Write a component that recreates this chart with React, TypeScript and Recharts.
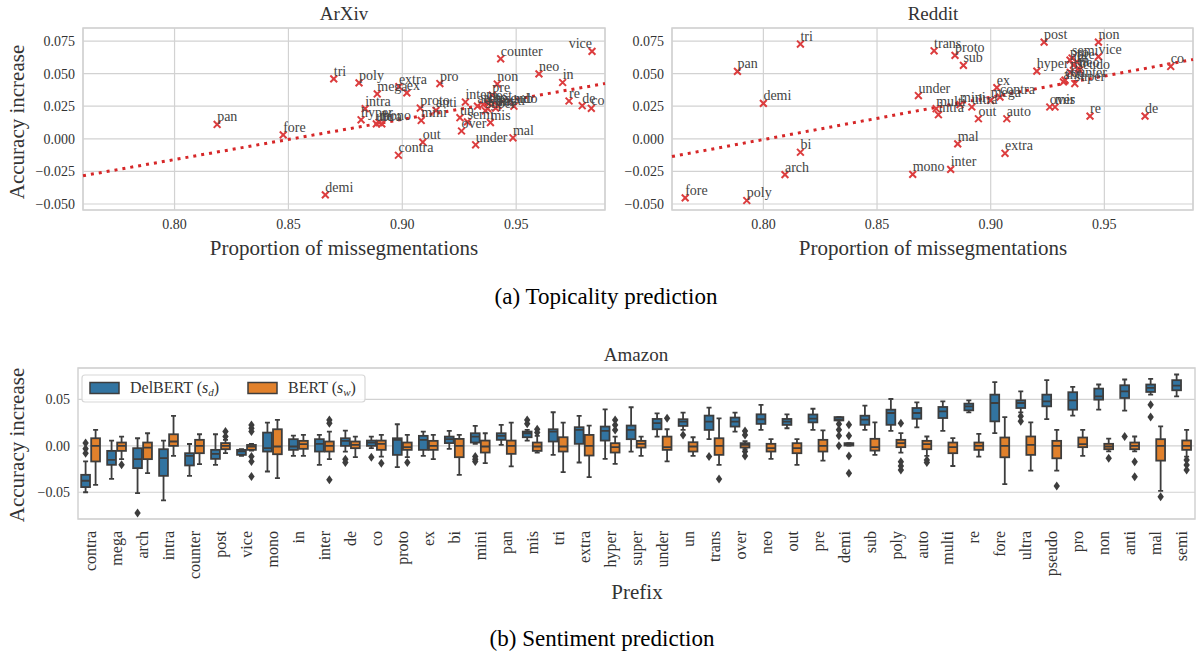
import React from 'react';
import {
  ScatterChart,
  Scatter,
  ComposedChart,
  Bar,
  XAxis,
  YAxis,
  CartesianGrid,
  ReferenceLine,
  ReferenceArea,
} from 'recharts';

const SERIF = '"Liberation Serif", "Times New Roman", serif';
const GRID = '#d2d2d2';
const TEXT = '#333333';
const RED = '#d62728';
const MARK = '#dc3d3e';
const BLUE = '#3274a1';
const ORANGE = '#e1812c';
const EDGE = '#3d3d3d';

// ---------- topicality scatter data ----------
const arxivPoints = [
  { p: 'pan', x: 0.8187, y: 0.011 },
  { p: 'fore', x: 0.8477, y: 0.003 },
  { p: 'tri', x: 0.8699, y: 0.046 },
  { p: 'demi', x: 0.8662, y: -0.043 },
  { p: 'poly', x: 0.881, y: 0.0429 },
  { p: 'mega', x: 0.889, y: 0.0344 },
  { p: 'extra', x: 0.8985, y: 0.04 },
  { p: 'ex', x: 0.902, y: 0.0352 },
  { p: 'pro', x: 0.9165, y: 0.0424 },
  { p: 'counter', x: 0.9432, y: 0.0614 },
  { p: 'vice', x: 0.9833, y: 0.0671 },
  { p: 'neo', x: 0.96, y: 0.0498 },
  { p: 'in', x: 0.9704, y: 0.0432 },
  { p: 'non', x: 0.9417, y: 0.042 },
  { p: 're', x: 0.9732, y: 0.029 },
  { p: 'de', x: 0.979, y: 0.0254 },
  { p: 'co', x: 0.983, y: 0.0234 },
  { p: 'mal', x: 0.9486, y: 0.0008 },
  { p: 'under', x: 0.9322, y: -0.0046 },
  { p: 'out', x: 0.909, y: -0.0026 },
  { p: 'contra', x: 0.8983, y: -0.0126 },
  { p: 'intra', x: 0.8837, y: 0.0231 },
  { p: 'hyper', x: 0.8819, y: 0.0146 },
  { p: 'ultra', x: 0.8886, y: 0.0115 },
  { p: 'mono', x: 0.8898, y: 0.0125 },
  { p: 'bi', x: 0.891, y: 0.0115 },
  { p: 'proto', x: 0.9079, y: 0.0236 },
  { p: 'anti', x: 0.9148, y: 0.0218 },
  { p: 'mini', x: 0.9083, y: 0.0141 },
  { p: 'inter', x: 0.9277, y: 0.0282 },
  { p: 'un', x: 0.9253, y: 0.0162 },
  { p: 'over', x: 0.926, y: 0.006 },
  { p: 'semi', x: 0.9286, y: 0.013 },
  { p: 'arch', x: 0.933, y: 0.025 },
  { p: 'auto', x: 0.9355, y: 0.0262 },
  { p: 'super', x: 0.9365, y: 0.0215 },
  { p: 'mis', x: 0.9387, y: 0.0125 },
  { p: 'trans', x: 0.9375, y: 0.0232 },
  { p: 'pre', x: 0.9395, y: 0.0335 },
  { p: 'post', x: 0.938, y: 0.0275 },
  { p: 'multi', x: 0.941, y: 0.0235 },
  { p: 'pseudo', x: 0.942, y: 0.0255 },
  { p: 'sub', x: 0.949, y: 0.025 },
];

const redditPoints = [
  { p: 'tri', x: 0.8163, y: 0.0727 },
  { p: 'pan', x: 0.7886, y: 0.0517 },
  { p: 'demi', x: 0.8, y: 0.0272 },
  { p: 'bi', x: 0.8163, y: -0.0103 },
  { p: 'arch', x: 0.8095, y: -0.0275 },
  { p: 'fore', x: 0.7656, y: -0.0453 },
  { p: 'poly', x: 0.7927, y: -0.0473 },
  { p: 'under', x: 0.8682, y: 0.0332 },
  { p: 'mono', x: 0.8657, y: -0.0273 },
  { p: 'trans', x: 0.8751, y: 0.0675 },
  { p: 'proto', x: 0.8843, y: 0.064 },
  { p: 'sub', x: 0.888, y: 0.0563 },
  { p: 'post', x: 0.9235, y: 0.0742 },
  { p: 'non', x: 0.9474, y: 0.0742 },
  { p: 'co', x: 0.9792, y: 0.0555 },
  { p: 'hyper', x: 0.9203, y: 0.0519 },
  { p: 'mal', x: 0.8855, y: -0.0039 },
  { p: 'inter', x: 0.8824, y: -0.0234 },
  { p: 'extra', x: 0.9063, y: -0.0111 },
  { p: 'out', x: 0.8946, y: 0.0154 },
  { p: 'auto', x: 0.9071, y: 0.0154 },
  { p: 're', x: 0.9437, y: 0.0174 },
  { p: 'de', x: 0.9679, y: 0.0174 },
  { p: 'over', x: 0.926, y: 0.0244 },
  { p: 'mis', x: 0.9283, y: 0.0244 },
  { p: 'ex', x: 0.9027, y: 0.0393 },
  { p: 'contra', x: 0.9041, y: 0.032 },
  { p: 'mega', x: 0.9, y: 0.0295 },
  { p: 'multi', x: 0.876, y: 0.0231 },
  { p: 'intra', x: 0.877, y: 0.0185 },
  { p: 'mini', x: 0.8865, y: 0.0262 },
  { p: 'ultra', x: 0.8917, y: 0.0244 },
  { p: 'semi', x: 0.9358, y: 0.062 },
  { p: 'vice', x: 0.9474, y: 0.063 },
  { p: 'pro', x: 0.9349, y: 0.0604 },
  { p: 'pre', x: 0.9379, y: 0.059 },
  { p: 'un', x: 0.9364, y: 0.0565 },
  { p: 'in', x: 0.9386, y: 0.054 },
  { p: 'pseudo', x: 0.935, y: 0.051 },
  { p: 'neo', x: 0.939, y: 0.0527 },
  { p: 'anti', x: 0.932, y: 0.0436 },
  { p: 'counter', x: 0.9327, y: 0.045 },
  { p: 'super', x: 0.937, y: 0.0424 },
];

// regression fits: y = a + b * x
const arxivFit = { a: -0.2627, b: 0.3085 };
const redditFit = { a: -0.2603, b: 0.3247 };

const propDomain = [0.7598, 0.989];
const propTicks = [0.8, 0.85, 0.9, 0.95];
const accDomain = [-0.0546, 0.085];
const accTicks = [-0.05, -0.025, 0, 0.025, 0.05, 0.075];

// ---------- sentiment box plot data ----------
const prefixes = [
  'contra', 'mega', 'arch', 'intra', 'counter', 'post', 'vice', 'mono', 'in', 'inter',
  'de', 'co', 'proto', 'ex', 'bi', 'mini', 'pan', 'mis', 'tri', 'extra',
  'hyper', 'super', 'under', 'un', 'trans', 'over', 'neo', 'out', 'pre', 'demi',
  'sub', 'poly', 'auto', 'multi', 're', 'fore', 'ultra', 'pseudo', 'pro', 'non',
  'anti', 'mal', 'semi',
];

// [whisker low, q1, median, q3, whisker high]
const delbertBoxes = [
  [-0.05, -0.0444, -0.0376, -0.0312, -0.0168],
  [-0.0355, -0.0204, -0.015, -0.0054, 0.0057],
  [-0.0509, -0.024, -0.0143, -0.0025, 0.0082],
  [-0.0588, -0.0323, -0.0133, -0.0036, 0.0057],
  [-0.0323, -0.0211, -0.0108, -0.0079, 0.002],
  [-0.0204, -0.014, -0.0086, -0.0043, 0.0125],
  [-0.0108, -0.0097, -0.006, -0.0043, -0.0036],
  [-0.0276, -0.0061, -0.0025, 0.0143, 0.0251],
  [-0.0108, -0.0043, -0.0007, 0.0072, 0.0111],
  [-0.0204, -0.0061, 0.0022, 0.0072, 0.0118],
  [-0.0061, 0, 0.0054, 0.0082, 0.0165],
  [-0.0025, 0, 0.0036, 0.0057, 0.01],
  [-0.0229, -0.0097, 0.0065, 0.0082, 0.0233],
  [-0.0108, -0.0043, 0.0065, 0.0108, 0.0154],
  [-0.0032, 0.003, 0.0072, 0.01, 0.0161],
  [0.0022, 0.0036, 0.01, 0.0136, 0.0215],
  [0.0011, 0.0065, 0.0108, 0.0136, 0.0226],
  [0.0057, 0.0093, 0.0136, 0.0154, 0.0172],
  [-0.0097, 0.0047, 0.0154, 0.0179, 0.0362],
  [-0.0179, 0.0022, 0.0172, 0.0201, 0.0323],
  [-0.014, 0.0057, 0.0161, 0.0208, 0.0394],
  [-0.0061, 0.0072, 0.0172, 0.0219, 0.0416],
  [0.01, 0.0179, 0.0244, 0.029, 0.0351],
  [0.0172, 0.0215, 0.0262, 0.0287, 0.0358],
  [0.0072, 0.0172, 0.0262, 0.0326, 0.0412],
  [0.0154, 0.0208, 0.0262, 0.0305, 0.0358],
  [0.0172, 0.0237, 0.0287, 0.034, 0.0441],
  [0.019, 0.0226, 0.0262, 0.029, 0.034],
  [0.0173, 0.0253, 0.0294, 0.0338, 0.04],
  [0.0274, 0.0274, 0.0285, 0.031, 0.031],
  [0.0173, 0.0227, 0.0282, 0.0325, 0.0433],
  [0.0162, 0.0227, 0.0354, 0.039, 0.0505],
  [0.0199, 0.0292, 0.0354, 0.0408, 0.0469],
  [0.0162, 0.03, 0.0372, 0.0419, 0.048],
  [0.0361, 0.0383, 0.0426, 0.0455, 0.0491],
  [0.0137, 0.0264, 0.0462, 0.0552, 0.0686],
  [0.0361, 0.0408, 0.0462, 0.0491, 0.0588],
  [0.0289, 0.0426, 0.048, 0.0552, 0.0708],
  [0.0325, 0.039, 0.0491, 0.0578, 0.0635],
  [0.039, 0.0498, 0.0534, 0.0617, 0.0661],
  [0.0379, 0.0516, 0.0588, 0.0653, 0.0715],
  [0.0552, 0.0581, 0.0625, 0.0661, 0.0722],
  [0.0534, 0.0599, 0.065, 0.0708, 0.0769],
];

const bertBoxes = [
  [-0.042, -0.0168, 0, 0.0082, 0.0172],
  [-0.0143, -0.0054, 0, 0.0036, 0.01],
  [-0.0294, -0.0143, -0.002, 0.0036, 0.0136],
  [-0.0108, 0, 0.0047, 0.0125, 0.0323],
  [-0.0197, -0.0079, 0, 0.0065, 0.0125],
  [-0.0079, -0.0036, 0, 0.003, 0.0065],
  [-0.005, -0.0043, -0.0007, 0.001, 0.002],
  [-0.0348, -0.009, -0.0007, 0.0179, 0.028],
  [-0.0108, -0.0032, 0.0018, 0.0054, 0.0118],
  [-0.0143, -0.0061, 0, 0.0047, 0.0154],
  [-0.0122, -0.0025, 0.0011, 0.0047, 0.01],
  [-0.0115, -0.0043, 0.0022, 0.0057, 0.0118],
  [-0.0122, -0.0043, -0.0014, 0.0036, 0.0118],
  [-0.0143, -0.0043, 0, 0.0054, 0.0118],
  [-0.0312, -0.0122, 0, 0.0075, 0.0118],
  [-0.0186, -0.0072, -0.0007, 0.0057, 0.0136],
  [-0.0222, -0.0086, 0, 0.0057, 0.0251],
  [-0.0072, -0.0054, -0.0007, 0.0036, 0.0108],
  [-0.0283, -0.0061, -0.0007, 0.0093, 0.0251],
  [-0.0337, -0.0104, 0, 0.0118, 0.0219],
  [-0.0194, -0.0072, -0.0014, 0.0029, 0.01],
  [-0.0108, -0.0018, 0.0022, 0.0054, 0.01],
  [-0.0168, -0.0043, -0.0014, 0.01, 0.0179],
  [-0.0108, -0.0061, -0.0007, 0.0039, 0.0093],
  [-0.0204, -0.0097, 0, 0.0082, 0.0297],
  [-0.0036, -0.0018, 0.0011, 0.0029, 0.005],
  [-0.014, -0.0061, -0.0025, 0.0022, 0.0072],
  [-0.0204, -0.0079, -0.0025, 0.0029, 0.0072],
  [-0.0159, -0.0061, 0, 0.0065, 0.0166],
  [0.0004, 0.0004, 0.0018, 0.0029, 0.0029],
  [-0.0097, -0.0051, -0.0014, 0.0076, 0.0253],
  [-0.0072, -0.0014, 0.0029, 0.0065, 0.0137],
  [-0.0108, -0.0036, 0.0018, 0.0054, 0.0101],
  [-0.0217, -0.0079, -0.0014, 0.0036, 0.0083],
  [-0.0116, -0.0043, 0, 0.0036, 0.013],
  [-0.0412, -0.0123, 0, 0.009, 0.031],
  [-0.0267, -0.0097, 0.0011, 0.0101, 0.0253],
  [-0.0267, -0.0134, 0, 0.0054, 0.0173],
  [-0.0108, -0.0014, 0.0018, 0.009, 0.0173],
  [-0.006, -0.0036, -0.0007, 0.0022, 0.0079],
  [-0.006, -0.0036, 0, 0.0036, 0.0101],
  [-0.0484, -0.0159, 0, 0.0072, 0.0209],
  [-0.0116, -0.0043, 0, 0.0058, 0.0173],
];

const delbertOutliers = [
  [0.003, -0.003, -0.008], [], [-0.0724], [], [], [], [], [], [], [],
  [-0.0143, -0.018], [-0.0122], [], [], [], [-0.0115, -0.0143, -0.0168], [], [0.028, 0.0237], [], [],
  [], [], [], [0.0118], [-0.0115], [], [], [], [], [0.0235, 0.0173, 0.0108, 0.0],
  [], [], [], [], [], [], [0.0318, 0.0264], [], [], [],
  [0.0101], [0.0444, 0.031], [],
];

const bertOutliers = [
  [], [-0.0204], [], [], [], [0.0154, 0.01], [0.0226, 0.019, 0.0154, -0.0115, -0.0168, -0.033], [], [], [0.028, 0.0244, -0.0366],
  [], [-0.0186], [-0.018], [], [], [], [], [0.0179, 0.0143], [], [],
  [0.028, 0.0226, 0.0172], [], [0.0297], [], [-0.0358], [0.0161, 0.0118, -0.0061, -0.0108], [], [], [], [0.0227, 0.0108, -0.0108, -0.0296],
  [], [0.0245, -0.017, -0.0217, -0.026], [-0.0152, -0.018], [], [], [], [], [-0.0433], [], [-0.0134],
  [-0.017, -0.0332], [-0.0549], [-0.0152, -0.0206, -0.026],
];

const boxDomain = [-0.0788, 0.0839];
const boxTicks = [-0.05, 0, 0.05];

const fmt = (v: number, d: number) => v.toFixed(d).replace('-', '\u2212');

const boxRows = prefixes.map((name, i) => ({
  name,
  d: delbertBoxes[i],
  b: bertBoxes[i],
  dOut: delbertOutliers[i],
  bOut: bertOutliers[i],
}));

const tickStyle = { fontFamily: SERIF, fontSize: 14, fill: TEXT };

function XMarker(props: any) {
  const { cx, cy } = props;
  const r = 3.4;
  return (
    <path
      d={`M${cx - r},${cy - r}L${cx + r},${cy + r}M${cx - r},${cy + r}L${cx + r},${cy - r}`}
      stroke={MARK}
      strokeWidth={2}
    />
  );
}

// label sits up-right of its marker, flipped to the left when it would run off the panel
function makeLabel(rightEdge: number) {
  return (props: any) => {
    const { cx, cy, payload } = props;
    const flip = cx + payload.p.length * 7 > rightEdge + 5;
    return (
      <text
        x={cx}
        y={cy - 3}
        textAnchor={flip ? 'end' : 'start'}
        fontFamily={SERIF}
        fontSize={14}
        fill="#444"
      >
        {payload.p}
      </text>
    );
  };
}

function ScatterPanel({ points, fit, width, yWidth, marginRight }: any) {
  const x0 = propDomain[0];
  const x1 = propDomain[1];
  return (
    <ScatterChart
      width={width}
      height={240}
      margin={{ top: 28, right: marginRight, bottom: 0, left: 0 }}
    >
      <CartesianGrid stroke={GRID} strokeWidth={1.2} />
      <XAxis
        type="number"
        dataKey="x"
        domain={propDomain}
        ticks={propTicks}
        allowDataOverflow
        tickFormatter={(v: number) => fmt(v, 2)}
        axisLine={false}
        tickLine={false}
        tickSize={0}
        tickMargin={9}
        height={30}
        tick={tickStyle}
      />
      <YAxis
        type="number"
        dataKey="y"
        domain={accDomain}
        ticks={accTicks}
        allowDataOverflow
        tickFormatter={(v: number) => fmt(v, 3)}
        axisLine={false}
        tickLine={false}
        tickSize={0}
        tickMargin={8}
        width={yWidth}
        tick={tickStyle}
      />
      <ReferenceArea
        x1={x0}
        x2={x1}
        y1={accDomain[0]}
        y2={accDomain[1]}
        fill="none"
        stroke={GRID}
        strokeWidth={1.5}
        fillOpacity={0}
        ifOverflow="visible"
      />
      <ReferenceLine
        segment={[
          { x: x0, y: fit.a + fit.b * x0 },
          { x: x1, y: fit.a + fit.b * x1 },
        ]}
        stroke={RED}
        strokeWidth={3}
        strokeDasharray="3 5"
        ifOverflow="visible"
      />
      <Scatter data={points} shape={XMarker} isAnimationActive={false} />
      <Scatter data={points} shape={makeLabel(width - marginRight)} isAnimationActive={false} />
    </ScatterChart>
  );
}

function makeBox(key: 'd' | 'b', outKey: 'dOut' | 'bOut', fill: string) {
  return (props: any) => {
    const { x, y, width, height, payload } = props;
    if (!payload) return <g />;
    const s = payload[key];
    const top = Math.min(y, y + height);
    const bot = Math.max(y, y + height);
    const lo = s[0];
    const hi = s[4];
    const span = hi - lo || 1e-6;
    const py = (v: number) => bot - ((v - lo) / span) * (bot - top);
    const cx = x + width / 2;
    const cap = width / 4;
    const bx = x + 0.6;
    const bw = width - 1.2;
    return (
      <g>
        <line x1={cx} x2={cx} y1={py(hi)} y2={py(s[3])} stroke={EDGE} strokeWidth={1.8} />
        <line x1={cx} x2={cx} y1={py(s[1])} y2={py(lo)} stroke={EDGE} strokeWidth={1.8} />
        <line x1={cx - cap} x2={cx + cap} y1={py(hi)} y2={py(hi)} stroke={EDGE} strokeWidth={1.8} />
        <line x1={cx - cap} x2={cx + cap} y1={py(lo)} y2={py(lo)} stroke={EDGE} strokeWidth={1.8} />
        <rect
          x={bx}
          y={py(s[3])}
          width={bw}
          height={Math.max(py(s[1]) - py(s[3]), 1)}
          fill={fill}
          stroke={EDGE}
          strokeWidth={1.8}
        />
        <line x1={bx} x2={bx + bw} y1={py(s[2])} y2={py(s[2])} stroke={EDGE} strokeWidth={1.8} />
        {payload[outKey].map((v: number, i: number) => {
          const oy = py(v);
          return (
            <path
              key={i}
              d={`M${cx},${oy - 4.5}L${cx + 3.2},${oy}L${cx},${oy + 4.5}L${cx - 3.2},${oy}Z`}
              fill={EDGE}
            />
          );
        })}
      </g>
    );
  };
}

function PrefixTick(props: any) {
  const { x, y, payload } = props;
  const ty = y + 10;
  return (
    <text
      x={x}
      y={ty}
      dy="0.33em"
      textAnchor="end"
      transform={`rotate(-90, ${x}, ${ty})`}
      fontFamily={SERIF}
      fontSize={16}
      fill={TEXT}
    >
      {payload.value}
    </text>
  );
}

function BoxPanel() {
  return (
    <ComposedChart
      width={1199}
      height={240}
      data={boxRows}
      margin={{ top: 28, right: 4, bottom: 0, left: 0 }}
      barCategoryGap="10%"
      barGap={0}
    >
      <CartesianGrid stroke={GRID} strokeWidth={1.2} vertical={false} />
      <XAxis
        dataKey="name"
        type="category"
        interval={0}
        axisLine={false}
        tickLine={false}
        tickSize={0}
        height={61}
        tick={PrefixTick}
      />
      <YAxis
        type="number"
        domain={boxDomain}
        ticks={boxTicks}
        allowDataOverflow
        tickFormatter={(v: number) => fmt(v, 2)}
        axisLine={false}
        tickLine={false}
        tickSize={0}
        tickMargin={8}
        width={78}
        tick={tickStyle}
      />
      <ReferenceArea
        y1={boxDomain[0]}
        y2={boxDomain[1]}
        fill="none"
        fillOpacity={0}
        stroke={GRID}
        strokeWidth={1.5}
        ifOverflow="visible"
      />
      <Bar
        dataKey={(r: any) => [r.d[0], r.d[4]]}
        shape={makeBox('d', 'dOut', BLUE)}
        isAnimationActive={false}
      />
      <Bar
        dataKey={(r: any) => [r.b[0], r.b[4]]}
        shape={makeBox('b', 'bOut', ORANGE)}
        isAnimationActive={false}
      />
    </ComposedChart>
  );
}

function Overlay() {
  const t = { fontFamily: SERIF, fill: TEXT, textAnchor: 'middle' as const, dominantBaseline: 'central' as const };
  return (
    <svg
      width={1199}
      height={653}
      style={{ position: 'absolute', left: 0, top: 0, pointerEvents: 'none' }}
    >
      <text x={344} y={13} fontSize={19} {...t}>ArXiv</text>
      <text x={933} y={13} fontSize={19} {...t}>Reddit</text>
      <text x={17} y={122} fontSize={21} {...t} transform="rotate(-90, 17, 122)">Accuracy increase</text>
      <text x={344} y={248} fontSize={21} {...t}>Proportion of missegmentations</text>
      <text x={933} y={248} fontSize={21} {...t}>Proportion of missegmentations</text>
      <text x={606} y={296} fontSize={23} {...t} fill="#000">(a) Topicality prediction</text>

      <text x={636} y={354} fontSize={19} {...t}>Amazon</text>
      <text x={17} y={445} fontSize={21} {...t} transform="rotate(-90, 17, 445)">Accuracy increase</text>
      <text x={637} y={592} fontSize={21} {...t}>Prefix</text>
      <text x={602} y={638} fontSize={23} {...t} fill="#000">(b) Sentiment prediction</text>

      {/* legend */}
      <rect x={82} y={375} width={283} height={27} rx={3} fill="#fff" fillOpacity={0.85} stroke="#d8d8d8" strokeWidth={1.2} />
      <rect x={90} y={382.5} width={29} height={11} fill={BLUE} stroke={EDGE} strokeWidth={1.5} />
      <text x={130} y={393} fontSize={16} fontFamily={SERIF} fill={TEXT}>
        DelBERT (<tspan fontStyle="italic">s</tspan>
        <tspan fontStyle="italic" fontSize={11} dy={3}>d</tspan>
        <tspan dy={-3}>)</tspan>
      </text>
      <rect x={248} y={382.5} width={29} height={11} fill={ORANGE} stroke={EDGE} strokeWidth={1.5} />
      <text x={288} y={393} fontSize={16} fontFamily={SERIF} fill={TEXT}>
        BERT (<tspan fontStyle="italic">s</tspan>
        <tspan fontStyle="italic" fontSize={11} dy={3}>w</tspan>
        <tspan dy={-3}>)</tspan>
      </text>
    </svg>
  );
}

export default function App() {
  return (
    <div
      style={{
        position: 'absolute',
        left: 0,
        top: 0,
        width: 1199,
        height: 653,
        background: '#fff',
        overflow: 'hidden',
        fontFamily: SERIF,
      }}
    >
      <div style={{ position: 'absolute', left: 0, top: 0 }}>
        <ScatterPanel points={arxivPoints} fit={arxivFit} width={620} yWidth={83} marginRight={15} />
      </div>
      <div style={{ position: 'absolute', left: 599, top: 0 }}>
        <ScatterPanel points={redditPoints} fit={redditFit} width={600} yWidth={73} marginRight={6} />
      </div>
      <div style={{ position: 'absolute', left: 0, top: 340 }}>
        <BoxPanel />
      </div>
      <Overlay />
    </div>
  );
}
